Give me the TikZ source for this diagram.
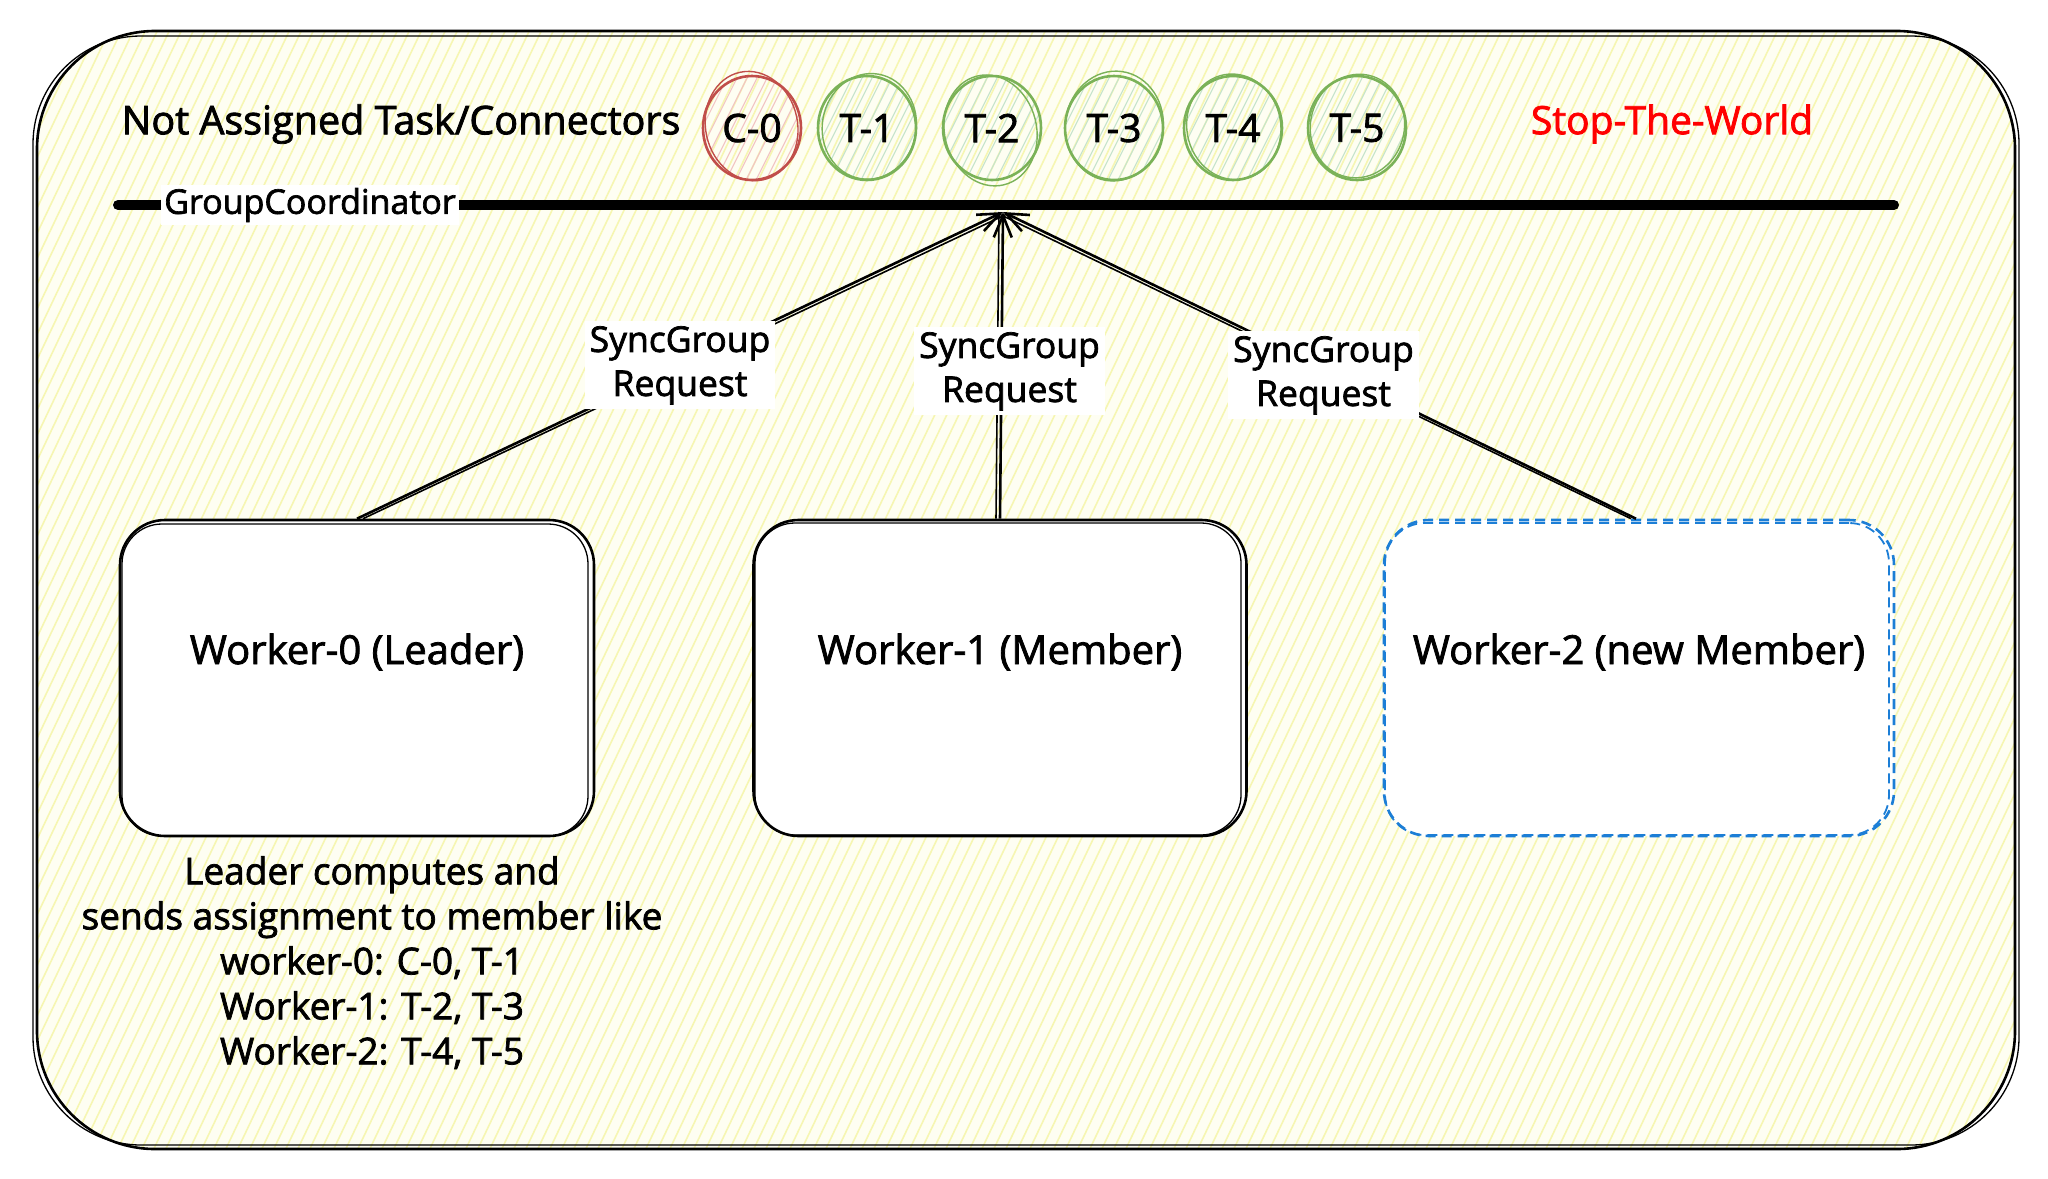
\documentclass[tikz,border=0pt]{standalone}
\usepackage{fontspec}
\setmainfont{Open Sans}[FakeBold=2]
\usetikzlibrary{arrows.meta,shapes.geometric}
\definecolor{hachy}{RGB}{246,246,178}
\definecolor{panelbg}{RGB}{254,254,242}
\definecolor{cred}{RGB}{193,78,74}
\definecolor{cpink}{RGB}{242,196,196}
\definecolor{cgreen}{RGB}{122,178,88}
\definecolor{cgreenh}{RGB}{198,228,204}
\definecolor{cblue}{RGB}{28,126,214}
\definecolor{stopred}{RGB}{255,0,0}
\newcommand\myhach[4]{% x y color name
  \begin{scope}
    \clip (#1,#2) ellipse (48 and 51);
    \foreach \k in {-120,-110,...,120}
      \draw[#3,line width=1.1] (#1+\k-30,#2+60) -- ++(60,-120);
  \end{scope}}
\begin{document}
\begin{tikzpicture}[x=1pt,y=-1pt,
  txt/.style={font=\fontsize{37}{45}\selectfont,inner sep=0},
  wtxt/.style={font=\fontsize{40}{45}\selectfont,inner sep=0},
  wbox/.style={draw=black,line width=2.6,rounded corners=45,fill=white,minimum height=316,inner sep=0},
  wbox2/.style={draw=black,line width=1.3,rounded corners=40,minimum height=312,inner sep=0},
  tcirc/.style={ellipse,draw=cgreen,line width=2.6,minimum width=98,minimum height=104,inner sep=0,font=\fontsize{39}{40}\selectfont},
  conn/.style={draw=black,line width=2.6,-{Straight Barb[length=22,width=18,line width=2.6]}},
  conn2/.style={draw=black,line width=1.6},
  lbl/.style={fill=white,align=center,inner sep=5,font=\fontsize{35.5}{44}\selectfont}]
\useasboundingbox (0,0) rectangle (2048,1178);
\fill[white] (0,0) rectangle (2048,1178);
% panel with hachure
\begin{scope}
  \clip[rounded corners=118] (37,31) rectangle (2015,1149);
  \fill[panelbg] (0,0) rectangle (2048,1178);
  \foreach \i in {-580,-568,...,2048}
    \draw[hachy,line width=1.6] (\i,1178) -- ++(560,-1178);
\end{scope}
\draw[line width=2.6,rounded corners=118] (37,31) rectangle (2015,1149);
\draw[line width=1.3,rounded corners=108] (33,36) rectangle (2019,1145);

% title and stop-the-world
\node[txt,font=\fontsize{39.5}{45}\selectfont] (title) at (401,124) {Not Assigned Task/Connectors};
\node[txt,font=\fontsize{39}{45}\selectfont,text=stopred] (stw) at (1672,124) {Stop-The-World};

% task circles
\myhach{752}{128}{cpink}{}
\myhach{867}{128}{cgreenh}{}
\myhach{992}{128}{cgreenh}{}
\myhach{1114}{128}{cgreenh}{}
\myhach{1233}{128}{cgreenh}{}
\myhach{1357}{128}{cgreenh}{}
\node[tcirc,draw=cred] (c0) at (752,128) {C-0};
\node[tcirc] (t1) at (867,128) {T-1};
\node[tcirc] (t2) at (992,128) {T-2};
\node[tcirc] (t3) at (1114,128) {T-3};
\node[tcirc] (t4) at (1233,128) {T-4};
\node[tcirc] (t5) at (1357,128) {T-5};
\draw[cred,line width=1.4,rotate around={12:(752,128)}] (752,126) ellipse (46 and 55);
\draw[cgreen,line width=1.4,rotate around={-10:(867,128)}] (869,126) ellipse (47 and 53);
\draw[cgreen,line width=1.4,rotate around={14:(992,128)}] (990,130) ellipse (46 and 56);
\draw[cgreen,line width=1.4,rotate around={-8:(1114,128)}] (1114,126) ellipse (49 and 55);
\draw[cgreen,line width=1.4,rotate around={10:(1233,128)}] (1234,127) ellipse (47 and 53);
\draw[cgreen,line width=1.4,rotate around={-12:(1357,128)}] (1357,126) ellipse (47 and 52);

% GroupCoordinator bar
\coordinate (gl) at (118,205);
\coordinate (gr) at (1894,205);
\draw[line width=10,line cap=round] (gl) -- (gr);
\node[fill=white,inner sep=3,font=\fontsize{34}{40}\selectfont] (gcl) at (310,205) {GroupCoordinator};
\coordinate (gc) at (1003,212);

% workers
\node[wbox,minimum width=474] (w0) at (357,678) {};
\node[wbox2,minimum width=466] (w0b) at (355,680) {};
\node[wbox,minimum width=493] (w1) at (1000,678) {};
\node[wbox2,minimum width=486] (w1b) at (998,679) {};
\node[wbox,draw=cblue,dash pattern=on 10 off 6,minimum width=510] (w2) at (1639,678) {};
\node[wbox2,draw=cblue,dash pattern=on 10 off 6,minimum width=504,line width=1.8] (w2b) at (1637,679) {};
\node[wtxt] (w0t) at (357,652) {Worker-0 (Leader)};
\node[wtxt] (w1t) at (1000,652) {Worker-1 (Member)};
\node[wtxt] (w2t) at (1639,652) {Worker-2 (new Member)};

% connectors
\draw[conn2] ([xshift=6]w0.north) -- ([xshift=4,yshift=-2]gc);
\draw[conn2] ([xshift=-4]w1.north) -- ([xshift=-4]gc);
\draw[conn2] ([xshift=-8]w2.north) -- ([xshift=-4,yshift=-2]gc);
\draw[conn] (w0.north) -- node[lbl] (l0) {SyncGroup\\Request} (gc);
\draw[conn] (w1.north) -- node[lbl,xshift=8,yshift=-6] (l1) {SyncGroup\\Request} (gc);
\draw[conn] ([xshift=-3]w2.north) -- node[lbl,xshift=4,yshift=-10] (l2) {SyncGroup\\Request} (gc);

% bottom note
\node[txt,align=center,anchor=north] (note) at (372,856) {Leader computes and\\sends assignment to member like\\worker-0: C-0, T-1\\Worker-1: T-2, T-3\\Worker-2: T-4, T-5};
\end{tikzpicture}
\end{document}
